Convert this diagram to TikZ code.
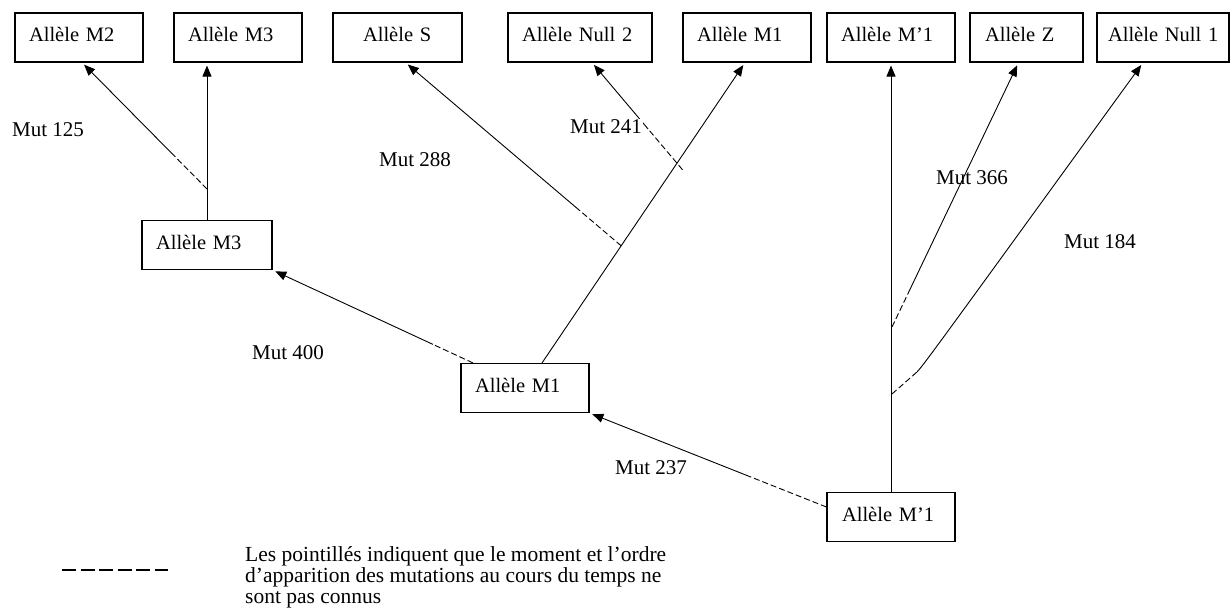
\documentclass[tikz,border=0pt]{standalone}
\usepackage{fontspec}
\setmainfont{Liberation Serif}
\usetikzlibrary{arrows.meta,calc}
\begin{document}
\begin{tikzpicture}[x=1pt,y=-1pt,
  box/.style={draw, line width=1.1pt, minimum height=49pt, inner xsep=14pt, inner ysep=0pt,
    align=left, text height=13pt, text depth=5pt, font=\fontsize{20.5}{22}\selectfont},
  lbl/.style={font=\fontsize{21}{22}\selectfont, inner sep=1pt},
  conn/.style={line width=0.9pt},
  arr/.style={conn, -{Triangle[length=11pt,width=9pt]}, shorten >=3pt},
  dsh/.style={conn, dash pattern=on 6pt off 3pt},
]
\useasboundingbox (0,0) rectangle (1231,611);
\fill[white] (0,0) rectangle (1231,611);

% top row
\node[box, text width=100pt] (m2top) at (79,37.5) {Allèle M2};
\node[box, text width=100pt] (m3top) at (238,37.5) {Allèle M3};
\node[box, text width=69pt, inner xsep=30pt] (stop) at (397.5,37.5) {Allèle S};
\node[box, text width=116pt] (null2top) at (580,37.5) {\mbox{Allèle Null 2}};
\node[box, text width=100pt] (m1top) at (747,37.5) {Allèle M1};
\node[box, text width=100pt] (mp1top) at (891,37.5) {Allèle M’1};
\node[box, text width=83pt, inner xsep=15pt] (ztop) at (1026.5,37.5) {Allèle Z};
\node[box, text width=110pt, inner xsep=11pt] (null1top) at (1163,37.5) {\mbox{Allèle Null 1}};

% lower boxes
\node[box, text width=102pt] (m3mid) at (207,245) {Allèle M3};
\node[box, text width=100pt] (m1mid) at (525,388) {Allèle M1};
\node[box, text width=98pt, inner xsep=15pt] (mp1bot) at (891,517) {Allèle M’1};

% M3 (middle) -> M3 top
\draw[arr] (m3mid.north) -- (m3mid.north |- m3top.south);
% branch -> M2
\coordinate (b1) at ($(m3mid.north)+(0,-31)$);
\coordinate (e125) at ([xshift=3pt]m2top.south);
\draw[dsh] (b1) -- ($(b1)!0.28!(e125)$) coordinate (s125);
\draw[arr] (s125) -- (e125);

% M1 (middle) -> M3 (middle)
\coordinate (a400) at ([xshift=-52pt]m1mid.north);
\draw[dsh] (a400) -- ($(a400)!0.2!(m3mid.south east)$) coordinate (s400);
\draw[arr] (s400) -- (m3mid.south east);

% M1 (middle) -> M1 top
\coordinate (a1) at ([xshift=17pt]m1mid.north);
\coordinate (e1) at ([xshift=-2pt]m1top.south);
\draw[arr] (a1) -- (e1);
% branch -> S
\coordinate (bS) at ($(a1)!0.39!(e1)$);
\coordinate (eS) at ([xshift=8pt]stop.south);
\draw[dsh] (bS) -- ($(bS)!0.2!(eS)$) coordinate (sS);
\draw[arr] (sS) -- (eS);
% branch -> Null 2
\coordinate (bN2) at ($(a1)!0.643!(e1)+(10,0)$);
\coordinate (eN2) at ([xshift=12pt]null2top.south);
\draw[dsh] (bN2) -- ($(bN2)!0.38!(eN2)$) coordinate (sN2);
\draw[arr] (sN2) -- (eN2);

% M'1 (bottom) -> M'1 top
\draw[arr] (mp1bot.north) -- (mp1top.south);
% branch -> Z
\coordinate (bZ) at ($(mp1bot.north)+(1,-165)$);
\coordinate (eZ) at ([xshift=-8pt]ztop.south);
\draw[dsh] (bZ) -- ($(bZ)!0.14!(eZ)$) coordinate (sZ);
\draw[arr] (sZ) -- (eZ);
% branch -> Null 1
\coordinate (bN1) at ($(mp1bot.north)+(1,-98)$);
\coordinate (kN1) at ($(bN1)+(25,-22)$);
\coordinate (eN1) at ([xshift=-20pt]null1top.south);
\draw[dsh] (bN1) -- (kN1);
\draw[arr] (kN1) .. controls ($(kN1)+(8,-9)$) .. (eN1);

% M'1 (bottom) -> M1 (middle)
\coordinate (a237) at ([yshift=10pt]mp1bot.west);
\draw[dsh] (a237) -- ($(a237)!0.33!(m1mid.south east)$) coordinate (s237);
\draw[arr] (s237) -- (m1mid.south east);

% labels
\node[lbl] (l125) at (48,130) {Mut 125};
\node[lbl] (l288) at (415,160) {Mut 288};
\node[lbl, fill=white] (l241) at (606,127) {Mut 241};
\node[lbl] (l366) at (972,178) {Mut 366};
\node[lbl] (l184) at (1100,242) {Mut 184};
\node[lbl] (l400) at (288,353) {Mut 400};
\node[lbl] (l237) at (651,468) {Mut 237};

% legend
\coordinate (lg1) at (62,570);
\coordinate (lg2) at (168,570);
\draw[line width=1.2pt, dash pattern=on 14pt off 4.5pt] (lg1) -- (lg2);
\node[anchor=north west, inner sep=0pt, align=left, font=\fontsize{21.5}{21}\selectfont] (legend) at (245,546)
  {Les pointillés indiquent que le moment et l’ordre\\d’apparition des mutations au cours du temps ne\\sont pas connus};
\end{tikzpicture}
\end{document}
